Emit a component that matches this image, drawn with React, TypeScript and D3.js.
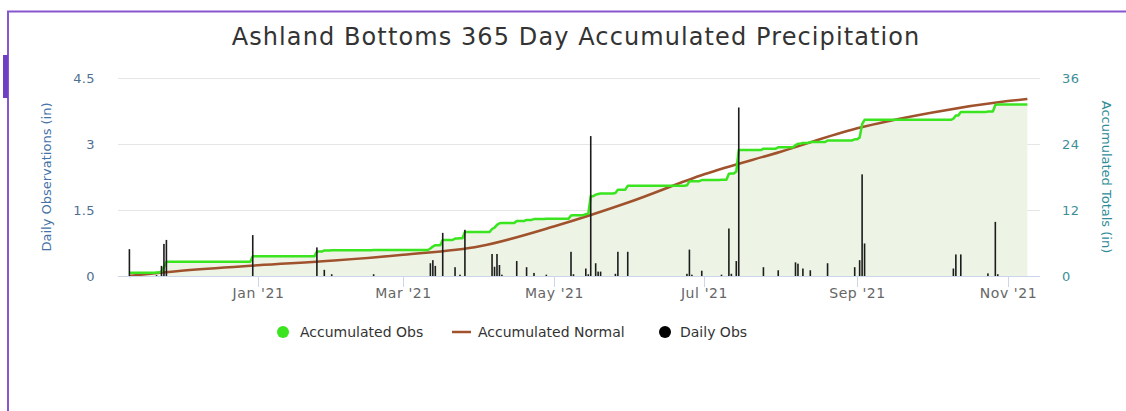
import React, { useEffect, useRef } from 'react';
import * as d3 from 'd3';

// daily observed precipitation (in), left axis
const dailyObs: [string, number][] = [
  ['2020-11-10', 0.61], ['2020-11-21', 0.02], ['2020-11-23', 0.23], ['2020-11-24', 0.73],
  ['2020-11-25', 0.82], ['2020-12-30', 0.93], ['2021-01-25', 0.65], ['2021-01-28', 0.14],
  ['2021-01-31', 0.04], ['2021-02-17', 0.04], ['2021-03-12', 0.29], ['2021-03-13', 0.36],
  ['2021-03-14', 0.23], ['2021-03-17', 0.98], ['2021-03-22', 0.2], ['2021-03-24', 0.03],
  ['2021-03-26', 1.05], ['2021-04-06', 0.5], ['2021-04-07', 0.21], ['2021-04-08', 0.5],
  ['2021-04-09', 0.25], ['2021-04-10', 0.03], ['2021-04-16', 0.34], ['2021-04-20', 0.2],
  ['2021-04-23', 0.07], ['2021-04-28', 0.03], ['2021-05-08', 0.55], ['2021-05-09', 0.04],
  ['2021-05-14', 0.17], ['2021-05-15', 0.04], ['2021-05-16', 3.18], ['2021-05-18', 0.29],
  ['2021-05-19', 0.1], ['2021-05-20', 0.1], ['2021-05-26', 0.05], ['2021-05-27', 0.55],
  ['2021-05-31', 0.55], ['2021-06-24', 0.05], ['2021-06-25', 0.6], ['2021-06-26', 0.03],
  ['2021-06-30', 0.12], ['2021-07-08', 0.03], ['2021-07-11', 1.08], ['2021-07-12', 0.05],
  ['2021-07-14', 0.34], ['2021-07-15', 3.83], ['2021-07-25', 0.2], ['2021-07-31', 0.13],
  ['2021-08-07', 0.31], ['2021-08-08', 0.28], ['2021-08-10', 0.17], ['2021-08-13', 0.13],
  ['2021-08-20', 0.29], ['2021-08-31', 0.2], ['2021-09-02', 0.36], ['2021-09-03', 2.31],
  ['2021-09-04', 0.74], ['2021-10-10', 0.17], ['2021-10-11', 0.49], ['2021-10-13', 0.49],
  ['2021-10-24', 0.06], ['2021-10-27', 1.23], ['2021-10-28', 0.04],
];

// accumulated observed (in), right axis - value from that day on
const accumulatedObs: [string, number][] = [
  ['2020-11-10', 0.61], ['2020-11-21', 0.63], ['2020-11-23', 0.86], ['2020-11-24', 1.59],
  ['2020-11-25', 2.6], ['2020-12-30', 3.58], ['2021-01-25', 4.45], ['2021-01-28', 4.65],
  ['2021-01-31', 4.69], ['2021-02-17', 4.73], ['2021-03-12', 5.0], ['2021-03-13', 5.35],
  ['2021-03-14', 5.6], ['2021-03-17', 6.55], ['2021-03-22', 6.8], ['2021-03-24', 6.85],
  ['2021-03-26', 8.0], ['2021-04-06', 8.55], ['2021-04-07', 8.8], ['2021-04-08', 9.3],
  ['2021-04-09', 9.6], ['2021-04-10', 9.65], ['2021-04-16', 10.0], ['2021-04-20', 10.2],
  ['2021-04-23', 10.35], ['2021-04-28', 10.4], ['2021-05-08', 11.0], ['2021-05-09', 11.05],
  ['2021-05-14', 11.25], ['2021-05-15', 11.3], ['2021-05-16', 14.5], ['2021-05-18', 14.8],
  ['2021-05-19', 14.9], ['2021-05-20', 15.0], ['2021-05-26', 15.1], ['2021-05-27', 15.7],
  ['2021-05-31', 16.4], ['2021-06-24', 16.5], ['2021-06-25', 17.2], ['2021-06-26', 17.25],
  ['2021-06-30', 17.45], ['2021-07-08', 17.5], ['2021-07-11', 18.6], ['2021-07-12', 18.65],
  ['2021-07-14', 19.0], ['2021-07-15', 22.9], ['2021-07-25', 23.15], ['2021-07-31', 23.4],
  ['2021-08-07', 23.8], ['2021-08-08', 24.05], ['2021-08-10', 24.2], ['2021-08-13', 24.35],
  ['2021-08-20', 24.65], ['2021-08-31', 24.85], ['2021-09-02', 25.2], ['2021-09-03', 27.6],
  ['2021-09-04', 28.4], ['2021-10-10', 28.6], ['2021-10-11', 29.2], ['2021-10-13', 29.8],
  ['2021-10-24', 29.9], ['2021-10-27', 31.1], ['2021-10-28', 31.2], ['2021-11-09', 31.2],
];

// accumulated normal (in), right axis
const accumulatedNormal: [string, number][] = [
  ['2020-11-10', 0], ['2020-12-01', 0.95], ['2021-01-01', 1.95], ['2021-02-01', 2.8],
  ['2021-03-01', 3.85], ['2021-04-01', 5.4], ['2021-05-01', 9.0], ['2021-06-01', 13.5],
  ['2021-07-01', 18.5], ['2021-08-01', 22.6], ['2021-09-01', 26.85], ['2021-10-01', 29.7],
  ['2021-11-01', 31.8], ['2021-11-09', 32.2],
];

const leftTicks = [0, 1.5, 3, 4.5];
const rightTicks = [0, 12, 24, 36];
const seriesNames = ['Accumulated Obs', 'Accumulated Normal', 'Daily Obs'];

const FONT = '"DejaVu Sans", Verdana, sans-serif';

const App: React.FC = () => {
  const svgRef = useRef<SVGSVGElement>(null);

  useEffect(() => {
    if (!svgRef.current) return;
    d3.select(svgRef.current).selectAll('*').remove();

    const width = 1126;
    const height = 411;
    const plotLeft = 118;
    const plotRight = 1040;
    const plotTop = 78;
    const plotBottom = 276;

    const parse = d3.timeParse('%Y-%m-%d');
    const daily = dailyObs.map(([d, v]) => ({ date: parse(d)!, v }));
    const obs = accumulatedObs.map(([d, v]) => ({ date: parse(d)!, v }));
    const normal = accumulatedNormal.map(([d, v]) => ({ date: parse(d)!, v }));

    const x = d3.scaleTime()
      .domain([parse('2020-11-10')!, parse('2021-11-09')!])
      .range([129.4, 1027.4]);
    const yL = d3.scaleLinear().domain([0, 4.5]).range([plotBottom, plotTop]);
    const yR = d3.scaleLinear().domain([0, 36]).range([plotBottom, plotTop]);

    const svg = d3.select(svgRef.current)
      .attr('width', width)
      .attr('height', height)
      .style('font-family', FONT);

    // frame
    svg.append('line').attr('x1', 7).attr('x2', width).attr('y1', 11.5).attr('y2', 11.5)
      .attr('stroke', '#8757cf').attr('stroke-width', 2);
    svg.append('line').attr('x1', 8).attr('x2', 8).attr('y1', 11).attr('y2', height)
      .attr('stroke', '#8757cf').attr('stroke-width', 2);
    svg.append('rect').attr('x', 3).attr('y', 55).attr('width', 5).attr('height', 43)
      .attr('fill', '#6f3fc4');

    // title
    svg.append('text')
      .attr('x', 576).attr('y', 45)
      .attr('text-anchor', 'middle')
      .attr('font-size', 24)
      .attr('letter-spacing', 1.1)
      .attr('fill', '#333')
      .text('Ashland Bottoms 365 Day Accumulated Precipitation');

    // grid
    svg.append('g').selectAll('line')
      .data(leftTicks.filter(t => t > 0))
      .enter().append('line')
      .attr('x1', plotLeft).attr('x2', plotRight)
      .attr('y1', d => yL(d) + 0.5).attr('y2', d => yL(d) + 0.5)
      .attr('stroke', '#e6e6e6');

    // accumulated obs area + line (daily steps)
    const stepPts = obs.flatMap((p, i) => i === 0 ? [p] :
      [{ date: d3.timeDay.offset(p.date, -1), v: obs[i - 1].v }, p]);

    const area = d3.area<{ date: Date; v: number }>()
      .x(d => x(d.date)).y0(yR(0)).y1(d => yR(d.v));
    svg.append('path').datum(stepPts).attr('d', area)
      .attr('fill', '#edf4e6');

    const normalLine = d3.line<{ date: Date; v: number }>()
      .x(d => x(d.date)).y(d => yR(d.v)).curve(d3.curveMonotoneX);
    svg.append('path').datum(normal).attr('d', normalLine)
      .attr('fill', 'none').attr('stroke', '#a0522d').attr('stroke-width', 2.5);

    const obsLine = d3.line<{ date: Date; v: number }>()
      .x(d => x(d.date)).y(d => yR(d.v));
    svg.append('path').datum(stepPts).attr('d', obsLine)
      .attr('fill', 'none').attr('stroke', '#3ae41f').attr('stroke-width', 2.5)
      .attr('stroke-linejoin', 'round');

    // daily bars
    svg.append('g').selectAll('rect')
      .data(daily)
      .enter().append('rect')
      .attr('x', d => x(d.date) - 0.8)
      .attr('width', 1.6)
      .attr('y', d => yL(d.v))
      .attr('height', d => yL(0) - yL(d.v))
      .attr('fill', '#1c1c1c');

    // x axis
    svg.append('line').attr('x1', plotLeft).attr('x2', plotRight)
      .attr('y1', plotBottom + 0.5).attr('y2', plotBottom + 0.5)
      .attr('stroke', '#ccd6eb');
    const xTicks = x.ticks(d3.timeMonth.every(2)!);
    const fmt = d3.timeFormat("%b '%y");
    const xt = svg.append('g').selectAll('g').data(xTicks).enter().append('g')
      .attr('transform', d => `translate(${Math.round(x(d)) + 0.5},0)`);
    xt.append('line').attr('y1', plotBottom + 1).attr('y2', plotBottom + 11)
      .attr('stroke', '#ccd6eb');
    xt.append('text').attr('y', 298).attr('text-anchor', 'middle')
      .attr('font-size', 14).attr('letter-spacing', 0.6)
      .attr('fill', '#666').text(d => fmt(d));

    // left axis
    svg.append('g').selectAll('text').data(leftTicks).enter().append('text')
      .attr('x', 95).attr('y', d => yL(d)).attr('dy', '0.35em')
      .attr('text-anchor', 'end').attr('font-size', 13).attr('letter-spacing', 0.4)
      .attr('fill', '#4f6f91')
      .text(d => String(d));
    svg.append('text')
      .attr('transform', 'translate(51,177) rotate(-90)')
      .attr('text-anchor', 'middle').attr('font-size', 13).attr('fill', '#4572a7')
      .text('Daily Observations (in)');

    // right axis
    svg.append('g').selectAll('text').data(rightTicks).enter().append('text')
      .attr('x', 1062).attr('y', d => yR(d)).attr('dy', '0.35em')
      .attr('text-anchor', 'start').attr('font-size', 13).attr('letter-spacing', 0.4)
      .attr('fill', '#3d8e99')
      .text(d => String(d));
    svg.append('text')
      .attr('transform', 'translate(1102,177) rotate(90)')
      .attr('text-anchor', 'middle').attr('font-size', 13).attr('fill', '#2f8c97')
      .text('Accumulated Totals (in)');

    // legend
    const lg = svg.append('g').attr('font-size', 14).attr('fill', '#333');
    lg.append('circle').attr('cx', 283).attr('cy', 332).attr('r', 6).attr('fill', '#3ae41f');
    lg.append('text').attr('x', 300).attr('y', 332).attr('dy', '0.35em').text(seriesNames[0]);
    lg.append('line').attr('x1', 452).attr('x2', 471).attr('y1', 332).attr('y2', 332)
      .attr('stroke', '#a0522d').attr('stroke-width', 2.5);
    lg.append('text').attr('x', 478).attr('y', 332).attr('dy', '0.35em').text(seriesNames[1]);
    lg.append('circle').attr('cx', 665).attr('cy', 332).attr('r', 6).attr('fill', '#000');
    lg.append('text').attr('x', 680).attr('y', 332).attr('dy', '0.35em').text(seriesNames[2]);
  }, []);

  return (
    <div style={{ position: 'absolute', left: 0, top: 0, background: '#fff' }}>
      <svg ref={svgRef} style={{ display: 'block' }}></svg>
    </div>
  );
};

export default App;
